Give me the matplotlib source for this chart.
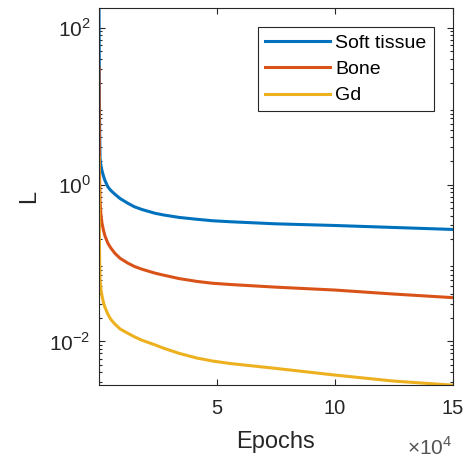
import numpy as np
import matplotlib
matplotlib.use('Agg')
import matplotlib.pyplot as plt
from matplotlib.ticker import FixedLocator, FuncFormatter, LogLocator, NullFormatter

plt.rcParams['font.family'] = ['Liberation Sans', 'DejaVu Sans']
plt.rcParams['mathtext.fontset'] = 'custom'
plt.rcParams['mathtext.rm'] = 'Liberation Sans'

# values
epochs = [1, 200, 424, 800, 1270, 1900, 2540, 3800, 5000, 6780, 9000, 12300,
          15000, 18200, 23700, 27100, 34000, 41500, 48000, 55500, 75000,
          100000, 125000, 150000]
soft_tissue = [180, 8, 2.2, 1.75, 1.5, 1.28, 1.12, 0.93, 0.84, 0.75, 0.66,
               0.575, 0.52, 0.48, 0.43, 0.41, 0.38, 0.36, 0.345, 0.335,
               0.315, 0.30, 0.283, 0.267]
bone = [31, 1.5, 0.62, 0.42, 0.32, 0.26, 0.22, 0.177, 0.155, 0.132, 0.114,
        0.099, 0.090, 0.083, 0.074, 0.070, 0.063, 0.058, 0.055, 0.053,
        0.049, 0.045, 0.040, 0.036]
gd = [2.2, 0.158, 0.060, 0.046, 0.038, 0.031, 0.027, 0.022, 0.019, 0.0165,
      0.0143, 0.0126, 0.0114, 0.0103, 0.0090, 0.0082, 0.0070, 0.0061,
      0.0056, 0.0052, 0.0045, 0.0037, 0.0031, 0.00275]
names = ['Soft tissue', 'Bone', 'Gd']
colors = ['#0072BD', '#D95319', '#EDB120']

dark = '#262626'

fig = plt.figure(figsize=(4.67, 4.58), dpi=100)
ax = fig.add_axes([0.212, 0.159, 0.758, 0.824])

for vals, name, c in zip([soft_tissue, bone, gd], names, colors):
    ax.plot(epochs, vals, color=c, lw=2.2, label=name)

ax.set_yscale('log')
ax.set_xlim(epochs[0], epochs[-1])
allv = soft_tissue + bone + gd
ax.set_ylim(min(allv), max(allv))

ax.xaxis.set_major_locator(FixedLocator([5e4, 10e4, 15e4]))
ax.xaxis.set_major_formatter(FuncFormatter(lambda v, p: '%g' % (v / 1e4)))
ax.yaxis.set_major_locator(FixedLocator([1e-2, 1e0, 1e2]))
ax.yaxis.set_major_formatter(FuncFormatter(lambda v, p: r'$10^{%d}$' % round(np.log10(v))))
ax.yaxis.set_minor_locator(LogLocator(base=10, subs=np.arange(2, 10)))
ax.yaxis.set_minor_formatter(NullFormatter())

ax.tick_params(which='both', direction='in', top=True, right=True,
               colors=dark, labelsize=15, width=0.8)
ax.tick_params(which='major', length=4)
ax.tick_params(which='minor', length=2)
ax.tick_params(axis='x', pad=10, labelsize=14.5)
ax.tick_params(axis='y', pad=6)
for s in ax.spines.values():
    s.set_color(dark)
    s.set_linewidth(0.8)

ax.set_xlabel('Epochs', fontsize=17, color=dark, labelpad=9)
ax.set_ylabel('L', fontsize=17, color=dark)
ax.yaxis.set_label_coords(-0.165, 0.5)
fig.text(0.968, 0.006, r'$\times 10^4$', fontsize=15, color='#555555',
         ha='right', va='baseline')

leg = ax.legend(loc='upper right', fontsize=14, handlelength=3.35,
                borderaxespad=1.0, fancybox=False, framealpha=1,
                edgecolor=dark, labelspacing=0.45, handletextpad=0.3,
                borderpad=0.35)
leg.get_frame().set_linewidth(0.8)

fig.savefig('out.png', dpi=100)
